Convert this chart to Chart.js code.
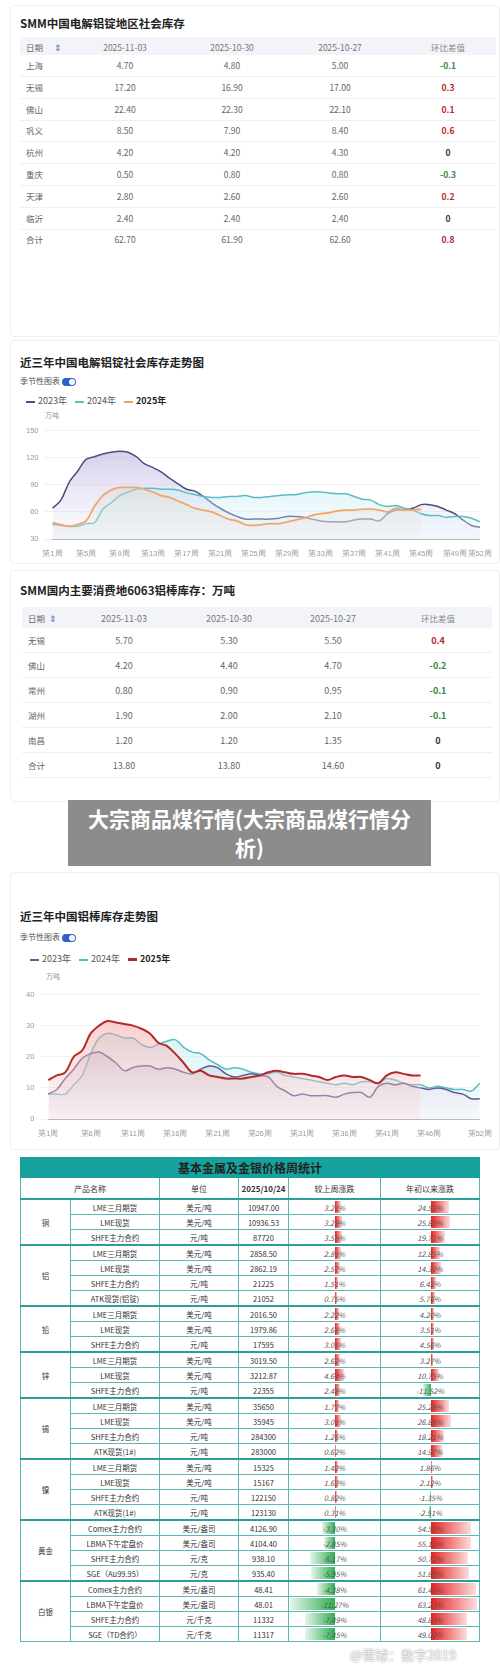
<!DOCTYPE html>
<html><head><meta charset="utf-8">
<script src="https://cdn.jsdelivr.net/npm/chart.js@4"></script>
<style>
body{margin:0;width:500px;height:1668px;background:#fff;font-family:"Noto Sans CJK SC","Noto Sans",sans-serif;position:relative;overflow:hidden}
.abs{position:absolute}
.card{position:absolute;left:10px;width:488px;border:1px solid #f0f0f3;border-radius:4px}
.ttl{position:absolute;left:20px;font-size:11.5px;font-weight:bold;color:#222;white-space:nowrap}
.t{position:absolute;font-size:8.5px;color:#666;transform:translate(-50%,-50%);white-space:nowrap}
.hd{position:absolute;left:20px;width:476px;background:#f3f4fa}
.ln{position:absolute;left:20px;width:476px;height:1px;background:#eef0f4}
.tog{display:inline-block;width:14px;height:8px;border-radius:4px;background:#2c5fd0;vertical-align:middle;position:relative;margin-left:2px}
.tog:after{content:"";position:absolute;right:1px;top:1px;width:6px;height:6px;border-radius:3px;background:#fff}
.leg{position:absolute;left:26px;font-size:9px;color:#555;white-space:nowrap}
.leg i{display:inline-block;width:9px;height:2px;vertical-align:middle;margin:0 3px 0 0}
.leg span{margin-right:8px}
table.m{position:absolute;left:20px;top:1157px;width:459px;border-collapse:collapse;font-size:7.5px;line-height:9px;color:#333;table-layout:fixed}
table.m td{border:1px solid #5cb8b6;height:14px;padding:0;text-align:center;position:relative;overflow:hidden;white-space:nowrap}
table.m .g td.top{border-top:2px solid #2a9f9d}
.bar{position:absolute;top:1px;bottom:1px}
.pc{position:relative;font-style:italic;color:#555}
</style></head><body>
<div id="root"></div>
<script>
// ---- data ----
const regions1 = ['上海','无锡','佛山','巩义','杭州','重庆','天津','临沂','合计'];
const dates = ['2025-11-03','2025-10-30','2025-10-27'];
const inv1103 = ['4.70','17.20','22.40','8.50','4.20','0.50','2.80','2.40','62.70'];
const inv1030 = ['4.80','16.90','22.30','7.90','4.20','0.80','2.60','2.40','61.90'];
const inv1027 = ['5.00','17.00','22.10','8.40','4.30','0.80','2.60','2.40','62.60'];
const diff1 = ['-0.1','0.3','0.1','0.6','0','-0.3','0.2','0','0.8'];

const regions2 = ['无锡','佛山','常州','湖州','南昌','合计'];
const rod1103 = ['5.70','4.20','0.80','1.90','1.20','13.80'];
const rod1030 = ['5.30','4.40','0.90','2.00','1.20','13.80'];
const rod1027 = ['5.50','4.70','0.95','2.10','1.35','14.60'];
const diff2 = ['0.4','-0.2','-0.1','-0.1','0','0'];

const weeks = Array.from({length:52},(_,i)=>'第'+(i+1)+'周');
const ingot2023 = [64,73,93,105,118,121,124,126,127,126,121,113,109,104,97,91,85,83,77,70,64,59,55,52,52,52,52,53,55,55,54,52,50,49,49,49,51,52,52,50,58,62,62,64,68,68,66,62,58,51,45,43];
const ingot2024 = [46,45,44,44,47,48,63,70,78,82,85,86,86,85,85,84,81,79,77,76,76,77,77,78,76,76,77,78,79,79,81,82,82,81,80,80,77,74,73,68,66,67,64,62,58,56,56,54,55,55,53,49];
const ingot2025 = [48,46,44,46,50,66,78,84,87,87,87,85,82,78,76,72,68,64,62,60,56,52,50,46,45,46,47,47,49,51,53,56,58,59,61,62,62,63,63,62,60,64,62,62,63];

const rod2023 = [8,9.5,13,16,19.5,21,21.5,20,18,15.5,16.5,17,17,16,16.5,16,15,14.5,16,17,16.5,14.5,13.5,14,14.5,14,13.5,10.5,9,7.5,8,7.5,7.5,7.5,7,8,8.5,8.5,7,10.5,11.5,11,11.5,10.5,10,9.5,10,9.5,8.5,8,6.5,6.5];
const rod2024 = [8,8,8,11,14,21,26,27.5,27,26,26,24,23,24,25,25.5,23,21.5,21,19,17.5,16,16.5,16,15,14.5,14.5,15,14,13.5,13,12.5,12,11.5,11,11.5,11,12,12,11.5,13,12.5,11.5,11,11,10,10.5,10,9.5,9.5,9,11.5];
const rod2025 = [12.5,14,15,20,22,27.5,30,31.5,31,30.5,30,29,27.5,24.5,23.5,21,18,15,15.5,14,13.5,13,13,13,13.5,14,15,15.5,15,14.5,14.5,14,13.5,12.5,13.5,14,13.5,13.5,12.5,11.5,14,15,14.5,14,14];

const metals = ['铜','铝','铅','锌','锡','镍','黄金','白银'];
const products = [
 ['LME三月期货','LME现货','SHFE主力合约'],
 ['LME三月期货','LME现货','SHFE主力合约','ATK现货(铝锭)'],
 ['LME三月期货','LME现货','SHFE主力合约'],
 ['LME三月期货','LME现货','SHFE主力合约'],
 ['LME三月期货','LME现货','SHFE主力合约','ATK现货(1#)'],
 ['LME三月期货','LME现货','SHFE主力合约','ATK现货(1#)'],
 ['Comex主力合约','LBMA下午定盘价','SHFE主力合约','SGE（Au99.95）'],
 ['Comex主力合约','LBMA下午定盘价','SHFE主力合约','SGE（TD合约）']];
const units = [
 ['美元/吨','美元/吨','元/吨'],
 ['美元/吨','美元/吨','元/吨','元/吨'],
 ['美元/吨','美元/吨','元/吨'],
 ['美元/吨','美元/吨','元/吨'],
 ['美元/吨','美元/吨','元/吨','元/吨'],
 ['美元/吨','美元/吨','元/吨','元/吨'],
 ['美元/盎司','美元/盎司','元/克','元/克'],
 ['美元/盎司','美元/盎司','元/千克','元/千克']];
const prices = [
 ['10947.00','10936.53','87720'],
 ['2858.50','2862.19','21225','21052'],
 ['2016.50','1979.86','17595'],
 ['3019.50','3212.87','22355'],
 ['35650','35945','284300','283000'],
 ['15325','15167','122150','123130'],
 ['4126.90','4104.40','938.10','935.40'],
 ['48.41','48.01','11332','11317']];
const weekChg = [
 [3.21,3.29,3.55],[2.81,2.57,1.51,0.75],[2.22,2.68,3.05],[2.62,4.64,2.48],
 [1.77,3.01,1.26,0.62],[1.42,1.63,0.82,0.31],[-3.30,-2.85,-6.17,-5.95],[-4.38,-11.27,-7.49,-7.45]];
const ytdChg = [
 [24.58,25.83,19.71],[12.85,14.30,6.42,5.76],[4.20,3.51,4.56],[3.27,10.75,-11.52],
 [25.26,26.88,18.21,14.97],[1.86,2.12,-1.35,-2.51],[54.50,55.10,50.72,51.86],[61.45,63.23,48.83,49.02]];

// ---- layout helpers ----
const root = document.getElementById('root');
function el(html){root.insertAdjacentHTML('beforeend',html);}
function txt(x,y,s,style){el(`<div class="t" style="left:${x}px;top:${y}px;${style||''}">${s}</div>`);}
function dcol(v){return v.startsWith('-')?'#2f8a3c':(v==='0'?'#333':'#b8262c');}

// panel 1
el('<div class="card" style="top:5px;height:330px"></div>');
el('<div class="ttl" style="top:15px">SMM中国电解铝锭地区社会库存</div>');
el('<div class="hd" style="top:37px;height:18px"></div>');
const c1 = [125,232,340,448];
txt(34,47,'日期 &nbsp; &nbsp; &nbsp;<span style="color:#4a6fd0">⇕</span>','left:26px;transform:translate(0,-50%)');
dates.forEach((d,i)=>txt(c1[i],47,d,'color:#777'));
txt(c1[3],47,'环比差值','color:#888');
regions1.forEach((r,i)=>{
  const y = 65+i*21.8;
  txt(34,y,r,'left:26px;transform:translate(0,-50%)');
  txt(c1[0],y,inv1103[i]); txt(c1[1],y,inv1030[i]); txt(c1[2],y,inv1027[i]);
  txt(c1[3],y,diff1[i],'font-weight:bold;color:'+dcol(diff1[i]));
  if(i<8) el(`<div class="ln" style="top:${y+11}px"></div>`);
});

// panel 2 (chart)
el('<div class="card" style="top:340px;height:222px"></div>');
el('<div class="ttl" style="top:354px">近三年中国电解铝锭社会库存走势图</div>');
el('<div class="abs" style="left:20px;top:375px;font-size:8px;color:#555">季节性图表<span class="tog"></span></div>');
el('<div class="leg" style="top:394px"><i style="background:#4a4f7f"></i><span>2023年</span><i style="background:#5bbcc5"></i><span>2024年</span><i style="background:#f0a868"></i><span style="font-weight:bold;color:#222">2025年</span></div>');
el('<div class="abs" style="left:45px;top:410px;font-size:7px;color:#999">万吨</div>');
el('<canvas id="c1" class="abs" style="left:20px;top:420px" width="474" height="140"></canvas>');

// panel 3
el('<div class="card" style="top:570px;height:230px"></div>');
el('<div class="ttl" style="top:582px">SMM国内主要消费地6063铝棒库存：万吨</div>');
el('<div class="hd" style="top:607px;height:21px;left:22px;width:470px"></div>');
const c3 = [124,229,333,438];
txt(34,618,'日期 &nbsp;<span style="color:#4a6fd0">⇕</span>','left:28px;transform:translate(0,-50%)');
dates.forEach((d,i)=>txt(c3[i],618,d,'color:#777;font-size:9px'));
txt(c3[3],618,'环比差值','color:#888');
regions2.forEach((r,i)=>{
  const y = 640+i*25;
  txt(34,y,r,'left:28px;transform:translate(0,-50%)');
  txt(c3[0],y,rod1103[i],'font-size:9px'); txt(c3[1],y,rod1030[i],'font-size:9px'); txt(c3[2],y,rod1027[i],'font-size:9px');
  txt(c3[3],y,diff2[i],'font-weight:bold;font-size:9px;color:'+dcol(diff2[i]));
  el(`<div class="ln" style="top:${y+12}px;left:22px;width:470px"></div>`);
});

// banner
el('<div class="abs" style="left:68px;top:800px;width:363px;height:66px;background:#8c8c8c;color:#fff;font-weight:bold;font-size:21px;line-height:29px;text-align:center;padding:4px 10px 0;box-sizing:border-box">大宗商品煤行情(大宗商品煤行情分析)</div>');

// panel 4
el('<div class="card" style="top:872px;height:276px"></div>');
el('<div class="ttl" style="top:908px">近三年中国铝棒库存走势图</div>');
el('<div class="abs" style="left:20px;top:931px;font-size:8px;color:#555">季节性图表<span class="tog"></span></div>');
el('<div class="leg" style="top:952px;left:30px"><i style="background:#5b5f97"></i><span>2023年</span><i style="background:#5bbcc5"></i><span>2024年</span><i style="background:#b22a2a;height:2.5px"></i><span style="font-weight:bold;color:#222">2025年</span></div>');
el('<div class="abs" style="left:46px;top:971px;font-size:7px;color:#999">万吨</div>');
el('<canvas id="c2" class="abs" style="left:20px;top:984px" width="474" height="156"></canvas>');

// panel 5 table
let h = '<table class="m"><colgroup><col style="width:50px"><col style="width:89px"><col style="width:79px"><col style="width:50px"><col style="width:92px"><col style="width:99px"></colgroup>';
h += '<tr><td colspan="6" style="background:#17a29e;height:19px;font-size:12px;line-height:14px;font-weight:bold;color:#222;border:1px solid #17a29e">基本金属及金银价格周统计</td></tr>';
h += '<tr style="font-size:8px"><td colspan="2" style="height:20px">产品名称</td><td>单位</td><td style="font-weight:bold">2025/10/24</td><td>较上周涨跌</td><td>年初以来涨跌</td></tr>';
function pcell(v,pos,neg,zero,c){
  const w = v>=0 ? v*pos : -v*neg;
  const bar = v>=0
    ? `<div class="bar" style="left:${zero}px;width:${w}px;background:linear-gradient(90deg,#e82020,rgba(232,32,32,0.15))"></div>`
    : `<div class="bar" style="left:${zero-w}px;width:${w}px;background:linear-gradient(270deg,#2fae50,rgba(47,174,80,0.12))"></div>`;
  return `<td${c}>${bar}<span class="pc">${v.toFixed(2)}%</span></td>`;
}
metals.forEach((m,g)=>{
  products[g].forEach((p,k)=>{
    const c = k===0?' class="top"':'';
    h += '<tr class="g">';
    if(k===0) h += `<td class="top" rowspan="${products[g].length}">${m}</td>`;
    h += `<td${c}>${p}</td><td${c}>${units[g][k]}</td><td${c}>${prices[g][k]}</td>`;
    h += pcell(weekChg[g][k],2,4,46,c);
    h += pcell(ytdChg[g][k],0.73,0.7,50,c);
    h += '</tr>';
  });
});
h += '</table>';
el(h);
el('<div class="abs" style="left:350px;top:1648px;font-size:13px;line-height:14px;color:rgba(255,255,255,0.9);text-shadow:0 0 2px #777">@雪球：数字2019</div>');

// ---- charts ----
function grad(c1,c2){
  return ctx=>{
    const a = ctx.chart.chartArea; if(!a) return c1;
    const g = ctx.chart.ctx.createLinearGradient(0,a.top,0,a.bottom);
    g.addColorStop(0,c1); g.addColorStop(1,c2); return g;
  };
}
function ds(data,color,fillTop,fillBot,width){
  return {data,borderColor:color,borderWidth:width||1.5,pointRadius:0,tension:0.35,fill:'start',backgroundColor:grad(fillTop,fillBot)};
}
function opts(min,max,step,showTick){
  return {
    responsive:false,animation:false,
    layout:{padding:{right:6,top:4}},
    plugins:{legend:{display:false},tooltip:{enabled:false}},
    scales:{
      x:{grid:{display:false},border:{color:'#bbb'},
         ticks:{autoSkip:false,maxRotation:0,color:'#999',font:{size:7.5},padding:2,callback:(v,i)=>showTick(i)?weeks[i]:''}},
      y:{min,max,grid:{color:'#f1f1f1'},border:{display:false},
         ticks:{stepSize:step,color:'#999',font:{size:7.5},padding:6}}
    }
  };
}
new Chart(document.getElementById('c1'),{
  type:'line',
  data:{labels:weeks,datasets:[
    ds(ingot2025,'#f0a868','rgba(215,195,170,0.55)','rgba(235,235,235,0.3)',1.8),
    ds(ingot2024,'#5bbcc5','rgba(150,225,235,0.5)','rgba(225,240,250,0.3)'),
    ds(ingot2023,'#4a4f7f','rgba(150,140,205,0.55)','rgba(235,235,250,0.2)')]},
  options:opts(30,150,30,i=>i%4===0||i===51)
});
new Chart(document.getElementById('c2'),{
  type:'line',
  data:{labels:weeks,datasets:[
    ds(rod2025,'#b22a2a','rgba(245,140,140,0.55)','rgba(250,220,220,0.3)',2),
    ds(rod2023,'#5b5f97','rgba(120,100,150,0.45)','rgba(240,235,245,0.2)'),
    ds(rod2024,'#5bbcc5','rgba(150,225,235,0.5)','rgba(225,240,250,0.3)')]},
  options:opts(0,40,10,i=>(i%5===0&&i!==50)||i===51)
});
</script>
</body></html>
